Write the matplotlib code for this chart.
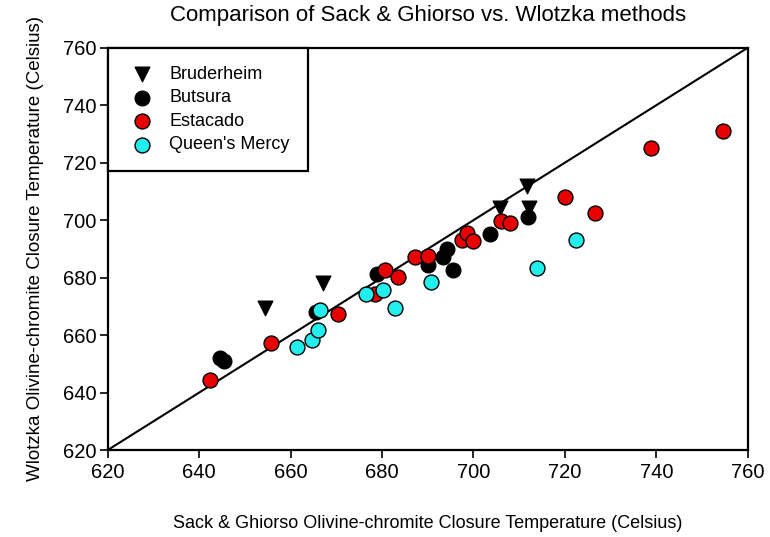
import matplotlib
matplotlib.use("Agg")
import matplotlib.pyplot as plt

plt.rcParams['font.family'] = ['Liberation Sans', 'DejaVu Sans']

# Closure temperatures (Celsius): Sack & Ghiorso (x) vs. Wlotzka (y)
bruderheim_x = [654.5, 667.0, 705.8, 711.8, 712.2]
bruderheim_y = [669.5, 678.2, 704.3, 712.0, 704.2]

butsura_x = [644.5, 645.5, 665.6, 679.0, 690.0, 693.4, 694.2, 695.5, 703.6, 712.0]
butsura_y = [652.0, 651.0, 668.0, 681.4, 684.4, 687.2, 689.8, 682.8, 695.2, 701.2]

estacado_x = [642.3, 655.7, 670.4, 678.4, 680.6, 683.5, 687.2, 690.0, 697.4,
              698.5, 699.9, 706.1, 707.9, 720.0, 726.5, 738.9, 754.5]
estacado_y = [644.2, 657.2, 667.4, 674.4, 682.6, 680.2, 687.2, 687.6, 693.2,
              695.4, 692.7, 699.8, 699.0, 707.9, 702.5, 725.0, 731.0]

queens_x = [661.3, 664.6, 666.0, 666.4, 676.6, 680.2, 682.8, 690.8, 713.8, 722.5]
queens_y = [656.0, 658.2, 661.8, 668.6, 674.4, 675.6, 669.5, 678.6, 683.3, 693.2]

axis_min, axis_max = 620, 760
ticks = [620, 640, 660, 680, 700, 720, 740, 760]

fig = plt.figure(figsize=(7.70, 5.37), dpi=100)
ax = fig.add_axes([0.140, 0.162, 0.831, 0.749])

# 1:1 reference line
ax.plot([axis_min, axis_max], [axis_min, axis_max], color='black', lw=1.5, zorder=2)

ms = 115
ax.scatter(bruderheim_x, bruderheim_y, s=ms, marker='v', color='black',
           edgecolors='black', linewidths=0.8, label='Bruderheim', zorder=3)
ax.scatter(butsura_x, butsura_y, s=ms, marker='o', color='black',
           edgecolors='black', linewidths=0.8, label='Butsura', zorder=4)
ax.scatter(estacado_x, estacado_y, s=ms, marker='o', color='#e80000',
           edgecolors='black', linewidths=1.0, label='Estacado', zorder=5)
ax.scatter(queens_x, queens_y, s=ms, marker='o', color='#22eeee',
           edgecolors='black', linewidths=1.0, label="Queen's Mercy", zorder=6)

ax.set_xlim(axis_min, axis_max)
ax.set_ylim(axis_min, axis_max)
ax.set_xticks(ticks)
ax.set_yticks(ticks)
ax.tick_params(direction='out', length=6, width=1.2, labelsize=14.5, pad=3)
ax.tick_params(axis='y', pad=2)
for sp in ax.spines.values():
    sp.set_linewidth(1.6)

ax.set_title('Comparison of Sack & Ghiorso vs. Wlotzka methods', fontsize=16, pad=19)
ax.set_xlabel('Sack & Ghiorso Olivine-chromite Closure Temperature (Celsius)',
              fontsize=13, labelpad=24)
ax.set_ylabel('Wlotzka Olivine-chromite Closure Temperature (Celsius)',
              fontsize=13.5, labelpad=14)

leg = ax.legend(loc='upper left', borderaxespad=0, fancybox=False, framealpha=1,
                edgecolor='black', fontsize=13, handletextpad=0.6,
                borderpad=1.0, labelspacing=0.36, handlelength=1.8, scatterpoints=1)
leg.get_frame().set_linewidth(1.6)

fig.savefig('out.png', dpi=100)
